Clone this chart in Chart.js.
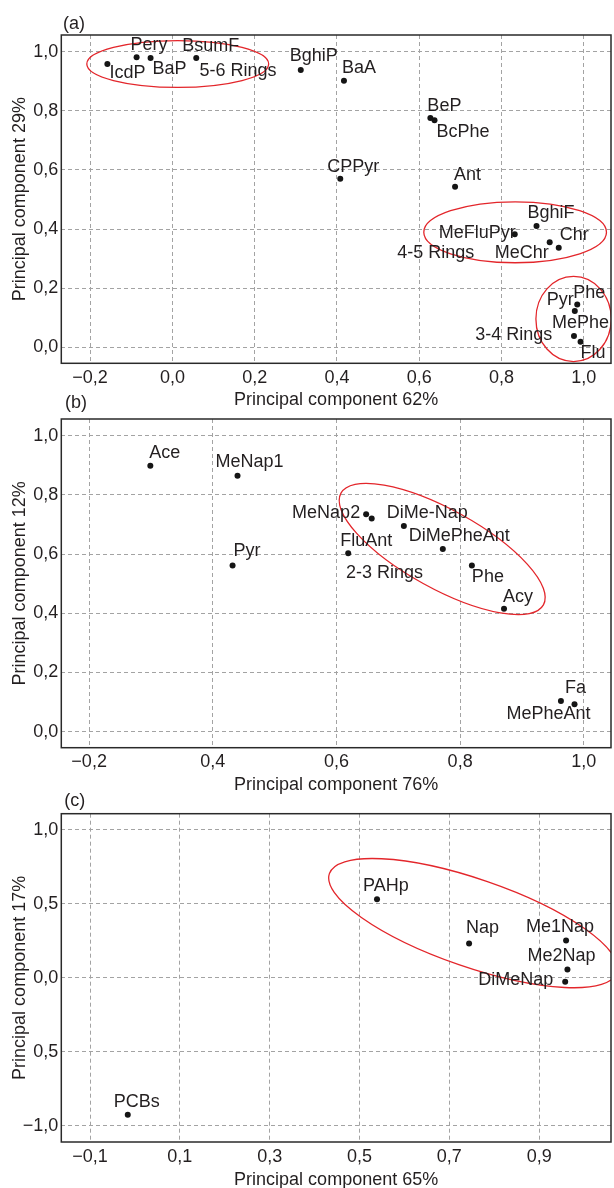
<!DOCTYPE html>
<html><head><meta charset="utf-8">
<script src="https://cdn.jsdelivr.net/npm/chart.js@4.4.1/dist/chart.umd.min.js"></script>
<style>
html,body{margin:0;padding:0;background:#fff;width:614px;height:1188px;overflow:hidden;position:relative}
canvas{position:absolute;left:0}
</style></head><body>
<canvas id="ca" width="614" height="412" style="top:0px"></canvas>
<canvas id="cb" width="614" height="410" style="top:390px"></canvas>
<canvas id="cc" width="614" height="408" style="top:780px"></canvas>
<script>
const FONT = "'Liberation Sans', Arial, Helvetica, sans-serif";
const TXT = '#231f20';
const RED = '#e3262b';

// ---------- Panel (a) ----------
const namesA = ['IcdP','Pery','BaP','BsumF','BghiP','BaA','BeP','BcPhe','CPPyr','Ant','BghiF','MeFluPyr','MeChr','Chr','Phe','Pyr','MePhe','Flu'];
const xA = [-0.158,-0.087,-0.053,0.058,0.312,0.417,0.627,0.637,0.408,0.687,0.885,0.832,0.917,0.939,0.984,0.978,0.976,0.992];
const yA = [0.958,0.981,0.978,0.978,0.938,0.901,0.775,0.768,0.570,0.543,0.410,0.382,0.355,0.337,0.145,0.123,0.038,0.019];
const xTicksA = [-0.2,0,0.2,0.4,0.6,0.8,1.0];
const xTickLabelsA = ['\u22120,2','0,0','0,2','0,4','0,6','0,8','1,0'];
const yTicksA = [0,0.2,0.4,0.6,0.8,1.0];
const yTickLabelsA = ['0,0','0,2','0,4','0,6','0,8','1,0'];
const groupNamesA = ['5-6 Rings','4-5 Rings','3-4 Rings'];
const groupXA = [0.066,0.5465,0.736];
const groupYA = [0.935,0.318,0.041];
const ellCxA = [0.013,0.833,0.975];
const ellCyA = [0.958,0.389,0.096];
const ellRxA = [0.221,0.222,0.0915];
const ellRyA = [0.079,0.103,0.144];
const ellRotA = [0,0,0];

// ---------- Panel (b) ----------
const namesB = ['Ace','MeNap1','Pyr','MeNap2','','DiMe-Nap','DiMePheAnt','FluAnt','Phe','Acy','Fa','MePheAnt'];
const xB = [0.299,0.440,0.432,0.648,0.657,0.709,0.772,0.619,0.819,0.871,0.963,0.985];
const yB = [0.898,0.864,0.561,0.734,0.720,0.695,0.617,0.603,0.561,0.415,0.104,0.093];
const xTicksB = [0.2,0.4,0.6,0.8,1.0];
const xTickLabelsB = ['\u22120,2','0,4','0,6','0,8','1,0'];
const yTicksB = [0,0.2,0.4,0.6,0.8,1.0];
const yTickLabelsB = ['0,0','0,2','0,4','0,6','0,8','1,0'];
const groupNamesB = ['2-3 Rings'];
const groupXB = [0.6155];
const groupYB = [0.535];
const ellCxB = [0.771];
const ellCyB = [0.617];
const ellRxB = [0.187];
const ellRyB = [0.133];
const ellRotB = [28.9];

// ---------- Panel (c) ----------
const namesC = ['PCBs','PAHp','Nap','Me1Nap','Me2Nap','DiMeNap'];
const xC = [-0.016,0.539,0.744,0.960,0.963,0.958];
const yC = [-0.925,0.531,0.233,0.253,0.057,-0.027];
const xTicksC = [-0.1,0.1,0.3,0.5,0.7,0.9];
const xTickLabelsC = ['\u22120,1','0,1','0,3','0,5','0,7','0,9'];
const yTicksC = [-1,-0.5,0,0.5,1];
const yTickLabelsC = ['\u22121,0','0,5','0,0','0,5','1,0'];
const groupNamesC = [];
const groupXC = [];
const groupYC = [];
const ellCxC = [0.753];
const ellCyC = [0.370];
const ellRxC = [0.3385];
const ellRyC = [0.297];
const ellRotC = [19];

// label placement (align, dx, dy in px relative to point)
const labAlignA = ['l','l','l','l','l','l','l','l','l','l','l','r','r','l','l','r','l','l'];
const labDxA = [2,-6,2,-14,-11,-2,-3,2,-13,-1,-9,1,-1,1,-4,-1,-22,0];
const labDyA = [9,-12,11,-12,-14,-13,-12,12,-12,-12,-13,-1,11,-13,-11,-11,-13,11];
const labAlignB = ['l','l','l','r','l','l','l','l','l','l','l','l'];
const labDxB = [-1,-22,1,-6,0,-17,-34,-8,0,-1,4,-68];
const labDyB = [-13,-14,-15,-1,0,-13,-13,-12,11,-12,-13,10];
const labAlignC = ['l','l','l','l','l','r'];
const labDxC = [-14,-14,-3,-40,-40,-12];
const labDyC = [-13,-13,-15,-13,-13,-2];

const decor = {
  id: 'decor',
  afterDatasetsDraw(chart, args, o) {
    const ctx = chart.ctx, a = chart.chartArea, xs = chart.scales.x, ys = chart.scales.y;
    ctx.save();
    ctx.beginPath(); ctx.rect(a.left, a.top, a.right - a.left, a.bottom - a.top); ctx.clip();
    ctx.strokeStyle = RED; ctx.lineWidth = 1.3;
    o.ell.cx.forEach((cx, i) => {
      const px = xs.getPixelForValue(cx), py = ys.getPixelForValue(o.ell.cy[i]);
      const rx = Math.abs(xs.getPixelForValue(cx + o.ell.rx[i]) - px);
      const ry = Math.abs(ys.getPixelForValue(o.ell.cy[i] + o.ell.ry[i]) - py);
      ctx.beginPath(); ctx.ellipse(px, py, rx, ry, o.ell.rot[i] * Math.PI / 180, 0, Math.PI * 2); ctx.stroke();
    });
    ctx.restore();
    ctx.save();
    ctx.font = '18px ' + FONT; ctx.fillStyle = TXT; ctx.textBaseline = 'middle';
    o.names.forEach((n, i) => {
      if (!n) return;
      const px = xs.getPixelForValue(o.xv[i]), py = ys.getPixelForValue(o.yv[i]);
      ctx.textAlign = o.al[i] === 'r' ? 'right' : 'left';
      ctx.fillText(n, px + o.dx[i], py + o.dy[i]);
    });
    ctx.textAlign = 'left';
    o.gn.forEach((g, i) => ctx.fillText(g, xs.getPixelForValue(o.gx[i]), ys.getPixelForValue(o.gy[i])));
    ctx.strokeStyle = '#2a2a2a'; ctx.lineWidth = 1.5;
    ctx.strokeRect(a.left, a.top, a.right - a.left, a.bottom - a.top);
    ctx.fillText(o.letter, o.lx, o.ly);
    ctx.restore();
  }
};

function panel(p) {
  const H = document.getElementById(p.id).height;
  const pick = (vals, labs) => v => { const k = vals.findIndex(t => Math.abs(t - v) < 1e-9); return k < 0 ? '' : labs[k]; };
  new Chart(document.getElementById(p.id), {
    type: 'scatter',
    data: { datasets: [{ data: p.xv.map((x, i) => ({ x, y: p.yv[i] })), pointRadius: 3, pointHoverRadius: 3,
      backgroundColor: '#151515', borderWidth: 0 }] },
    options: {
      responsive: false, animation: false, events: [],
      layout: { padding: { top: p.top, left: 0, right: 1, bottom: 0 } },
      plugins: { legend: { display: false }, tooltip: { enabled: false },
        decor: { names: p.names, xv: p.xv, yv: p.yv, al: p.al, dx: p.dx, dy: p.dy, gn: p.gn, gx: p.gx, gy: p.gy,
          ell: p.ell, letter: p.letter, lx: p.lx, ly: p.ly } },
      scales: {
        x: { type: 'linear', min: p.xmin, max: p.xmax,
          afterBuildTicks: s => { s.ticks = p.xt.map(v => ({ value: v })); },
          afterFit: s => { s.height = H - p.bottom; },
          ticks: { callback: pick(p.xt, p.xl), color: TXT, font: { family: FONT, size: 18 }, padding: 4, maxRotation: 0, autoSkip: false },
          grid: { color: '#a3a3a3', lineWidth: 1, drawTicks: false },
          border: { display: false, dash: [4, 3] },
          title: { display: true, text: p.xtitle, color: TXT, font: { family: FONT, size: 18 }, padding: { top: 0, bottom: p.xtp } } },
        y: { type: 'linear', min: p.ymin, max: p.ymax,
          afterBuildTicks: s => { s.ticks = p.yt.map(v => ({ value: v })); },
          afterFit: s => { s.width = 61.3; },
          ticks: { callback: pick(p.yt, p.yl), color: TXT, font: { family: FONT, size: 18 }, padding: 3, autoSkip: false },
          grid: { color: '#a3a3a3', lineWidth: 1, drawTicks: false },
          border: { display: false, dash: [4, 3] },
          title: { display: true, text: p.ytitle, color: TXT, font: { family: FONT, size: 18 }, padding: { top: 9.2, bottom: 0 } } }
      }
    },
    plugins: [decor]
  });
}

panel({ id: 'ca', names: namesA, xv: xA, yv: yA, al: labAlignA, dx: labDxA, dy: labDyA,
  gn: groupNamesA, gx: groupXA, gy: groupYA,
  ell: { cx: ellCxA, cy: ellCyA, rx: ellRxA, ry: ellRyA, rot: ellRotA },
  xmin: -0.27, xmax: 1.066, ymin: -0.054, ymax: 1.056, xt: xTicksA, xl: xTickLabelsA, yt: yTicksA, yl: yTickLabelsA,
  xtitle: 'Principal component 62%', ytitle: 'Principal component 29%',
  top: 35, bottom: 363.3, xtp: 1.4, letter: '(a)', lx: 63, ly: 24.5 });

panel({ id: 'cb', names: namesB, xv: xB, yv: yB, al: labAlignB, dx: labDxB, dy: labDyB,
  gn: groupNamesB, gx: groupXB, gy: groupYB,
  ell: { cx: ellCxB, cy: ellCyB, rx: ellRxB, ry: ellRyB, rot: ellRotB },
  xmin: 0.155, xmax: 1.044, ymin: -0.054, ymax: 1.056, xt: xTicksB, xl: xTickLabelsB, yt: yTicksB, yl: yTickLabelsB,
  xtitle: 'Principal component 76%', ytitle: 'Principal component 12%',
  top: 29, bottom: 357.7, xtp: 4.4, letter: '(b)', lx: 65, ly: 13.5 });

panel({ id: 'cc', names: namesC, xv: xC, yv: yC, al: labAlignC, dx: labDxC, dy: labDyC,
  gn: groupNamesC, gx: groupXC, gy: groupYC,
  ell: { cx: ellCxC, cy: ellCyC, rx: ellRxC, ry: ellRyC, rot: ellRotC },
  xmin: -0.164, xmax: 1.06, ymin: -1.11, ymax: 1.11, xt: xTicksC, xl: xTickLabelsC, yt: yTicksC, yl: yTickLabelsC,
  xtitle: 'Principal component 65%', ytitle: 'Principal component 17%',
  top: 33.7, bottom: 362, xtp: -2.6, letter: '(c)', lx: 64.3, ly: 21 });
</script>
</body></html>
